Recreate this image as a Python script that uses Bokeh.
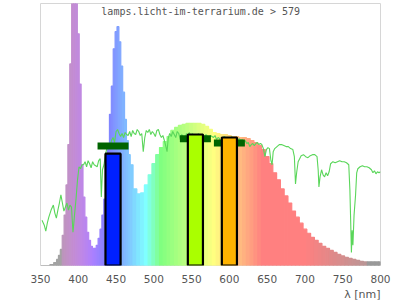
from bokeh.plotting import figure
from bokeh.models import Range1d, ColumnDataSource, Label, FixedTicker, Title
from bokeh.embed import file_html
from bokeh.resources import INLINE

# --- lamp spectrum (relative intensity, arbitrary units) ---
spec_wl = [350, 355, 360, 365, 370, 372.5, 375, 377.5, 380, 382.5, 385, 387.5, 390, 392.5,
           395, 397.5, 400, 402.5, 405, 407.5, 410, 412.5, 415, 417.5, 420, 422.5, 425,
           427.5, 430, 432.5, 435, 437.5, 440, 442.5, 445, 447.5, 450, 452.5, 455, 457.5,
           460, 462.5, 465, 467.5, 470, 475, 480, 485, 490, 495, 500, 505, 510, 515, 520,
           525, 530, 535, 540, 545, 550, 555, 560, 565, 570, 575, 580, 585, 590, 595, 600,
           605, 610, 615, 620, 625, 630, 635, 640, 645, 650, 655, 660, 665, 670, 675, 680,
           685, 690, 695, 700, 705, 710, 715, 720, 725, 730, 735, 740, 745, 750, 755, 760,
           765, 770, 775, 780, 785, 790, 795, 800]
spec_val = [0, 0, 0, 1, 3, 6, 10, 16, 30, 50, 80, 120, 200, 300,
            310, 300, 230, 180, 100, 68, 48, 33, 25, 19, 17, 17, 20,
            27, 36, 50, 66, 90, 115, 150, 178, 215, 232, 237, 222, 198,
            172, 145, 124, 110, 100, 76, 71, 72, 80, 90, 101, 110, 117, 123, 128,
            134, 137, 139, 140, 141, 141, 141, 141, 140, 138, 135, 132, 131, 130, 130, 129,
            128, 128, 127, 127, 126, 124, 122, 119, 115, 108, 101, 92, 85, 76, 69, 62,
            54, 48, 42, 36, 32, 28, 25, 22, 19, 17, 15, 13, 11, 9.5, 8, 7,
            6, 5, 4, 3.5, 3.5, 3.5, 3.5, 3.5]

# --- daylight reference spectrum ---
day_wl = [352, 355, 357, 359, 361, 364, 367, 369, 371, 373, 375, 377, 379, 381, 383, 385, 387,
          389, 391, 393, 395, 397, 399, 401, 403, 405, 407, 409, 411, 413, 415, 417, 419, 421,
          423, 425, 427, 429, 430.5, 432, 434, 436, 438, 440, 442, 444, 446, 448, 450, 452,
          454, 456, 458, 460, 462, 464, 466, 468, 470, 472, 474, 476, 478, 480, 482, 484,
          486, 488, 490, 492, 494, 496, 498, 500, 502, 504, 506, 508, 510, 512, 514, 516,
          517.5, 519, 521, 523, 525, 527, 529, 531, 533, 535, 537, 539, 541, 543, 545, 547,
          549, 551, 553, 555, 557, 559, 561, 563, 565, 567, 569, 571, 573, 575, 577, 579,
          581, 583, 585, 587, 589, 591, 593, 595, 597, 599, 601, 603, 605, 607, 609, 611,
          613, 615, 617, 619, 621, 623, 625, 627, 629, 631, 633, 635, 637, 639, 641, 643,
          645, 647, 649, 651, 653, 655, 656.5, 658, 660, 663, 666, 669, 672, 675, 678, 681,
          684, 686, 687.5, 689, 691, 693, 695, 698, 701, 704, 707, 710, 713, 716, 717.5,
          718.5, 720, 722, 724, 726, 728, 730, 732, 734, 737, 740, 743, 746, 749, 752, 755,
          758, 759.5, 760.5, 761.5, 762.5, 763.5, 765, 767, 768.5, 770, 773, 776, 779, 782,
          785, 788, 790, 792, 794, 796, 798, 800]
day_val = [45, 40, 34, 42, 48, 55, 60, 52, 47, 55, 62, 70, 62, 54, 58, 62, 55,
           60, 58, 33, 50, 66, 85, 98, 96, 100, 100, 103, 98, 104, 101, 97, 103, 100,
           99, 98, 104, 106, 68, 95, 100, 110, 117, 120, 118, 124, 127, 122, 133, 135,
           131, 128, 131, 127, 132, 130, 129, 133, 128, 134, 131, 130, 135, 133, 129, 131,
           113, 127, 134, 132, 135, 130, 133, 131, 128, 134, 135, 130, 127, 129, 124, 118,
           113, 126, 131, 128, 133, 130, 127, 133, 131, 125, 130, 128, 124, 131, 129, 132,
           128, 131, 129, 130, 127, 131, 129, 126, 130, 127, 130, 128, 124, 129, 128, 127,
           129, 125, 127, 126, 119, 126, 128, 127, 125, 127, 126, 128, 125, 127, 126, 124,
           126, 124, 125, 122, 124, 121, 122, 118, 120, 121, 119, 121, 122, 120, 121, 120,
           116, 108, 115, 117, 116, 104, 100, 113, 116, 118, 120, 120, 119, 118, 118, 116,
           115, 108, 81, 92, 103, 106, 109, 110, 108, 107, 109, 110, 110, 108, 95,
           78, 88, 95, 90, 88, 92, 89, 93, 101, 103, 102, 103, 104, 103, 103, 102,
           100, 75, 45, 13, 35, 20, 50, 70, 92, 96, 98, 99, 98, 98,
           97, 95, 92, 94, 91, 93, 92, 93]

# --- measured bands ---
band_center = [446, 555, 600]
band_value = [111, 130, 127]
band_color = ["#0020ff", "#aaff00", "#ffb300"]
band_ref = [118.5, 125.7, 121.5]

x_ticks = [350, 400, 450, 500, 550, 600, 650, 700, 750, 800]


def wl_color(w):
    grey = 0.62
    if w < 380 or w > 780:
        g = 0.64 if w < 380 else 0.6
        c = (g, g, g)
        return "#%02x%02x%02x" % tuple(int(round(v * 255)) for v in c)
    if w < 440:
        r, g, b = -(w - 440) / 60, 0.0, 1.0
    elif w < 490:
        r, g, b = 0.0, (w - 440) / 50, 1.0
    elif w < 510:
        r, g, b = 0.0, 1.0, -(w - 510) / 20
    elif w < 580:
        r, g, b = (w - 510) / 70, 1.0, 0.0
    elif w < 645:
        r, g, b = 1.0, -(w - 645) / 65, 0.0
    else:
        r, g, b = 1.0, 0.0, 0.0
    if w < 420:
        f = 0.3 + 0.7 * (w - 380) / 40
    elif w <= 700:
        f = 1.0
    else:
        f = 0.3 + 0.7 * (780 - w) / 80
    light = [0.5 * c + 0.5 for c in (r, g, b)]
    out = [f * c + (1 - f) * grey for c in light]
    return "#%02x%02x%02x" % tuple(int(round(min(1, max(0, v)) * 255)) for v in out)


n = len(spec_wl)
lefts, rights = [], []
for i, w in enumerate(spec_wl):
    lo = (spec_wl[i - 1] + w) / 2 if i > 0 else w
    hi = (spec_wl[i + 1] + w) / 2 if i < n - 1 else w
    lefts.append(lo)
    rights.append(hi)

spec_src = ColumnDataSource(dict(left=lefts, right=rights, top=spec_val,
                                 bottom=[0] * n, color=[wl_color(w) for w in spec_wl]))

p = figure(width=400, height=300, output_backend="svg", toolbar_location=None,
           x_range=Range1d(350, 800), y_range=Range1d(0, 260),
           min_border_left=40, min_border_right=20, min_border_top=3, min_border_bottom=10,
           y_axis_type=None)
p.background_fill_color = "white"
p.border_fill_color = "white"
p.outline_line_color = "#d6d6d6"
p.outline_line_width = 1
p.grid.visible = False

p.quad(left="left", right="right", top="top", bottom="bottom", source=spec_src,
       fill_color="color", line_color="color", line_width=1.2)

p.line(day_wl, day_val, line_color="#5ad65a", line_width=1.1)

p.rect(x=band_center, y=band_ref, width=41, height=7, height_units="screen",
       fill_color="#006400", line_color=None)

p.vbar(x=band_center, top=band_value, bottom=0, width=20, fill_color=band_color,
       line_color="black", line_width=2.2)

ax = p.xaxis[0]
ax.ticker = FixedTicker(ticks=x_ticks)
ax.axis_line_color = None
ax.major_tick_line_color = None
ax.minor_tick_line_color = None
ax.major_tick_out = 0
ax.major_tick_in = 0
ax.major_label_standoff = 9
ax.major_label_text_font = "DejaVu Sans"
ax.major_label_text_font_size = "10.5px"
ax.major_label_text_color = "#555555"

p.add_layout(Title(text="λ [nm]", align="right", text_font="DejaVu Sans",
                   text_font_size="11px", text_font_style="normal",
                   text_color="#555555", standoff=0), "below")

p.add_layout(Label(x=562, y=252, text="lamps.licht-im-terrarium.de > 579",
                   text_font="DejaVu Sans Mono", text_font_size="10px",
                   text_color="#555555", text_align="center", text_baseline="middle"))

open("out.html", "w").write(file_html(p, INLINE))
